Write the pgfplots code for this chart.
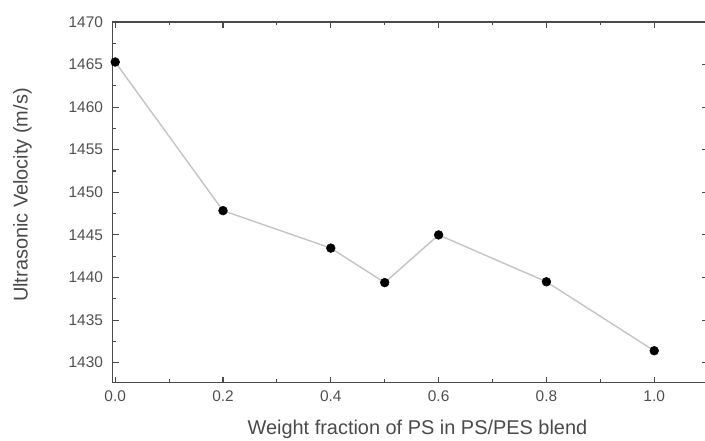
\documentclass[border=0pt]{standalone}
\usepackage{fontspec}
\setmainfont{Liberation Sans}
\usepackage{pgfplots}
\pgfplotsset{compat=1.18}
\definecolor{axgray}{HTML}{4A4A4A}
\definecolor{lblgray}{HTML}{505050}
\definecolor{linegray}{HTML}{C4C4C4}

\begin{document}
\begin{tikzpicture}[x=1bp,y=1bp]
\useasboundingbox (0,0) rectangle (705,441);
\begin{axis}[
  at={(112.5bp,58.3bp)}, anchor=south west,
  width=595.6bp, height=360.7bp, scale only axis,
  xmin=-0.005, xmax=1.1, ymin=1427.65, ymax=1470,
  xtick={0,0.2,0.4,0.6,0.8,1.0}, minor x tick num=1,
  ytick={1430,1435,1440,1445,1450,1455,1460,1465,1470}, minor y tick num=1,
  tick align=inside, major tick length=6bp, minor tick length=3.5bp,
  axis line style={axgray, line width=1.3bp},
  every tick/.style={axgray, line width=1.1bp},
  /pgf/number format/assume math mode=true,
  tick label style={font=\fontsize{15.5}{17}\selectfont, text=lblgray},
  xticklabel style={yshift=-5bp, /pgf/number format/.cd, fixed, fixed zerofill, precision=1},
  yticklabel style={xshift=-6bp, /pgf/number format/1000 sep={}},
  xlabel={Weight fraction of PS in PS/PES blend},
  ylabel={Ultrasonic Velocity (m/s)},
  label style={font=\fontsize{20}{22}\selectfont, text=axgray},
  xlabel style={at={(axis description cs:0.512,0)}, anchor=center, yshift=-47bp},
  ylabel style={at={(axis description cs:0,0.52)}, anchor=center, yshift=90bp},
]
\addplot[linegray, line width=1.4bp, mark=*, mark size=4.4bp,
  mark options={fill=black, draw=black, line width=0.5bp}]
  coordinates {
    (0.0,1465.3) (0.2,1447.85) (0.4,1443.45) (0.5,1439.4)
    (0.6,1445.0) (0.8,1439.5) (1.0,1431.4)
  };
\end{axis}
\end{tikzpicture}
\end{document}
